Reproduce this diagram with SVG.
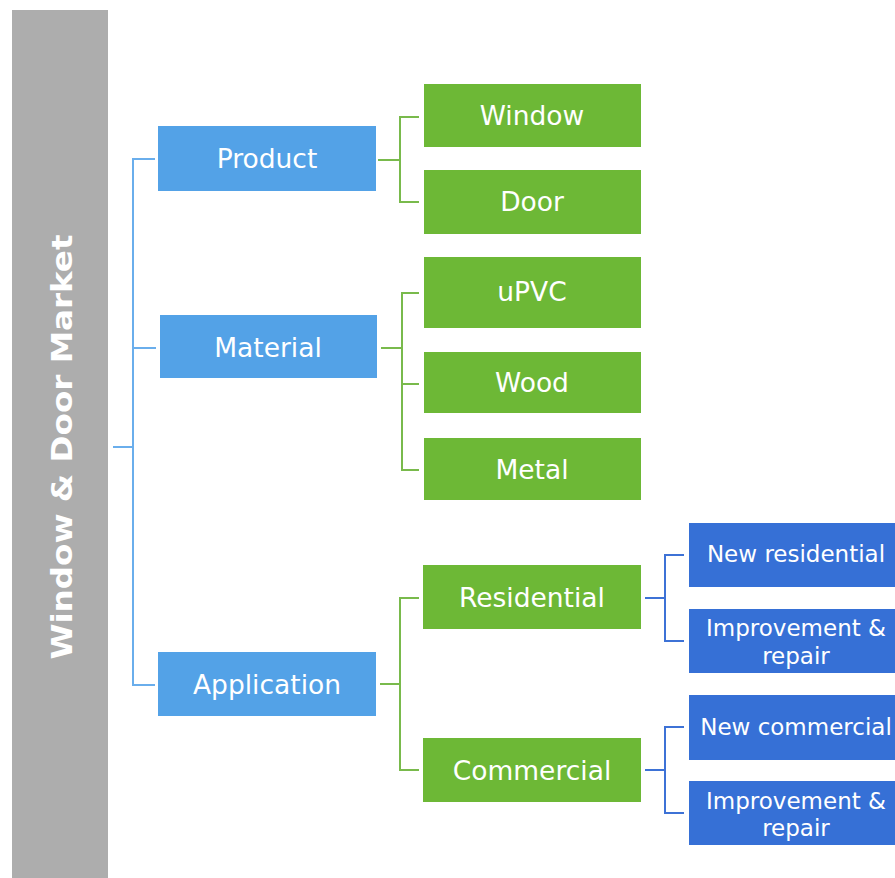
<svg xmlns="http://www.w3.org/2000/svg" width="895" height="878" viewBox="0 0 895 878">
<style>
.l1{fill:#53A2E7}
.l2{fill:#6DB836}
.l3{fill:#3670D6}
text{font-family:"DejaVu Sans","Liberation Sans",sans-serif;fill:#fff;text-anchor:middle}
.t{font-size:26.5px}
.ts{font-size:23px}
.c1{stroke:#6AAEEC;stroke-width:2;fill:none}
.c2{stroke:#79BA4C;stroke-width:2;fill:none}
.c3{stroke:#3D72D6;stroke-width:2;fill:none}
</style>
<rect width="895" height="878" fill="#fff"/>
<g id="root">
<rect x="12" y="10" width="96" height="868" fill="#ADADAD"/>
<text transform="translate(72,447) rotate(-90)" font-size="28" font-weight="bold" textLength="425" lengthAdjust="spacingAndGlyphs">Window &amp; Door  Market</text>
</g>
<g id="connectors">
<path class="c1" d="M113 447H133M155 159H133V685H155M133 348H156"/>
<path class="c2" d="M378 160H400M419 117H400V202H419"/>
<path class="c2" d="M381 348H402M419 293H402V470H419M402 384H419"/>
<path class="c2" d="M380 684H400M419 598H400V770H419"/>
<path class="c3" d="M645 598H665M684 555H665V641H684"/>
<path class="c3" d="M645 770H665M684 727H665V813H684"/>
</g>
<g id="product"><rect class="l1" x="158" y="126" width="218" height="65"/><text class="t" x="267" y="168">Product</text></g>
<g id="material"><rect class="l1" x="160" y="315" width="217" height="63"/><text class="t" x="268" y="357">Material</text></g>
<g id="application"><rect class="l1" x="158" y="652" width="218" height="64"/><text class="t" x="267" y="694">Application</text></g>
<g id="window"><rect class="l2" x="424" y="84" width="217" height="63"/><text class="t" x="532" y="125">Window</text></g>
<g id="door"><rect class="l2" x="424" y="170" width="217" height="64"/><text class="t" x="532" y="211">Door</text></g>
<g id="upvc"><rect class="l2" x="424" y="257" width="217" height="71"/><text class="t" x="532" y="301">uPVC</text></g>
<g id="wood"><rect class="l2" x="424" y="352" width="217" height="61"/><text class="t" x="532" y="392">Wood</text></g>
<g id="metal"><rect class="l2" x="424" y="438" width="217" height="62"/><text class="t" x="532" y="479">Metal</text></g>
<g id="residential"><rect class="l2" x="423" y="565" width="218" height="64"/><text class="t" x="532" y="607">Residential</text></g>
<g id="commercial"><rect class="l2" x="423" y="738" width="218" height="64"/><text class="t" x="532" y="780">Commercial</text></g>
<g id="new-residential"><rect class="l3" x="689" y="523" width="215" height="64"/><text class="ts" x="796" y="562">New residential</text></g>
<g id="improvement-residential"><rect class="l3" x="689" y="609" width="215" height="64"/><text class="ts" x="796" y="636">Improvement &amp;</text><text class="ts" x="796" y="664">repair</text></g>
<g id="new-commercial"><rect class="l3" x="689" y="695" width="215" height="65"/><text class="ts" x="796" y="735">New commercial</text></g>
<g id="improvement-commercial"><rect class="l3" x="689" y="781" width="215" height="64"/><text class="ts" x="796" y="809">Improvement &amp;</text><text class="ts" x="796" y="836">repair</text></g>
</svg>
